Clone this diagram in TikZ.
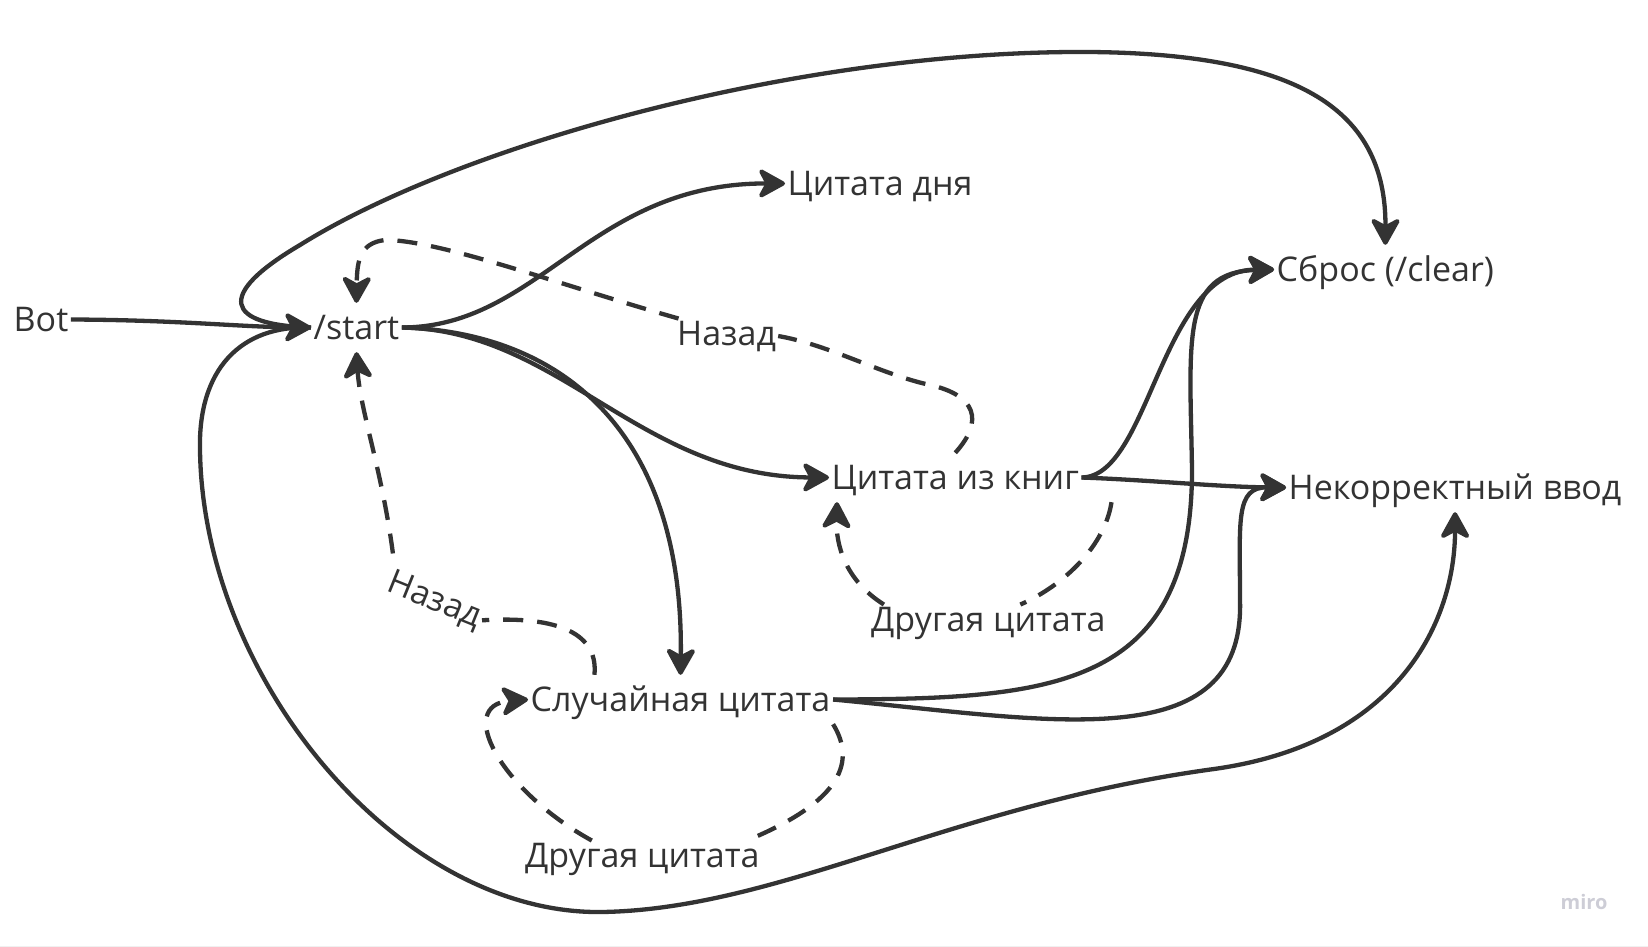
\documentclass[tikz,border=0pt]{standalone}
\usepackage{fontspec}
\setmainfont{Open Sans}
\usetikzlibrary{arrows.meta}

\definecolor{ink}{HTML}{333333}
\definecolor{wmark}{HTML}{CDCDD6}

\tikzset{
  screen/.style={anchor=base west, inner xsep=2.5pt, inner ysep=1pt, text height=35pt, text depth=12pt, text=ink, font=\fontsize{34}{40}\selectfont},
  lbl/.style={anchor=base west, inner sep=2pt, text=ink, font=\fontsize{34}{40}\selectfont},
  link/.style={color=ink, line width=4.3pt},
  go/.style={link, -{Stealth[length=31pt, width=34pt, inset=9pt, round]}},
  retdash/.style={dash pattern=on 20pt off 14pt},
}

\begin{document}
\begin{tikzpicture}[x=1pt, y=-1pt]
\useasboundingbox (0,0) rectangle (1648,947);
\draw[color=black!6, line width=1pt] (0,946) -- (1648,946);

\foreach \n/\x/\y/\t in {bot/11/331/Bot, start/311/339/{/start}, day/785/195/Цитата дня,
    clear/1274/281/{Сброс (/clear)}, books/829/489/Цитата из книг,
    wrong/1286/499/Некорректный ввод, random/528/711/Случайная цитата}
    \node[screen] (\n) at (\x,\y) {\t};

\node[lbl] (back1) at (675,345) {Назад};
\node[lbl, rotate=-22] (back2) at (383,590) {Назад};
\node[lbl] (other1) at (869,631) {Другая цитата};
\node[lbl] (other2) at (523,867) {Другая цитата};
\node[text=wmark, font=\fontsize{20}{24}\selectfont\bfseries] (miro) at (1584,902) {miro};

\draw[go] (bot.east) .. controls (180,320) and (240,327) .. (start.west);
\draw[go] (start.east) .. controls (540,327) and (590,183) .. (day.west);
\draw[go] (start.east) .. controls (560,330) and (640,477) .. (books.west);
\draw[go] (start.east) .. controls (560,332) and (684,430) .. (random.north);
\draw[go] (start.west) .. controls (225,325) and (215,295) .. (300,245)
    .. controls (460,145) and (800,50) .. (1090,52)
    .. controls (1300,54) and (1386,110) .. (clear.north);
\draw[go] (start.west) .. controls (240,325) and (198,370) .. (200,450)
    .. controls (203,680) and (400,915) .. (602,912)
    .. controls (780,909) and (950,805) .. (1214,769)
    .. controls (1400,743) and (1455,620) .. (wrong.south);
\draw[go] (books.east) .. controls (1150,477) and (1160,270) .. (clear.west);
\draw[go] (books.east) .. controls (1150,480) and (1220,487) .. (wrong.west);
\draw[go] (random.east) .. controls (1050,699) and (1192,690) .. (1192,470)
    .. controls (1190,340) and (1180,272) .. (clear.west);
\draw[go] (random.east) .. controls (1050,720) and (1245,760) .. (1240,600)
    .. controls (1240,520) and (1235,487) .. (wrong.west);

\draw[link, retdash] (books.north) .. controls (985,420) and (975,395) .. (930,385)
    .. controls (880,374) and (830,345) .. (back1.east);
\draw[go, retdash] (back1.160) .. controls (560,285) and (440,240) .. (385,240)
    .. controls (360,243) and (357,260) .. (start.north);
\draw[link, retdash] (random.164) .. controls (598,640) and (570,615) .. (back2.east);
\draw[go, retdash] ([yshift=12pt]back2.north west) .. controls (382,470) and (360,410) .. (start.south);
\draw[link, retdash] ([xshift=30pt]books.south east) .. controls (1105,545) and (1065,585) .. (other1.30);
\draw[go, retdash] (other1.170) .. controls (845,580) and (836,545) .. ([xshift=8pt]books.south west);
\draw[link, retdash] (random.south east) .. controls (855,760) and (845,800) .. (other2.10);
\draw[go, retdash] (other2.160) .. controls (500,790) and (455,705) .. (random.west);
\end{tikzpicture}
\end{document}
